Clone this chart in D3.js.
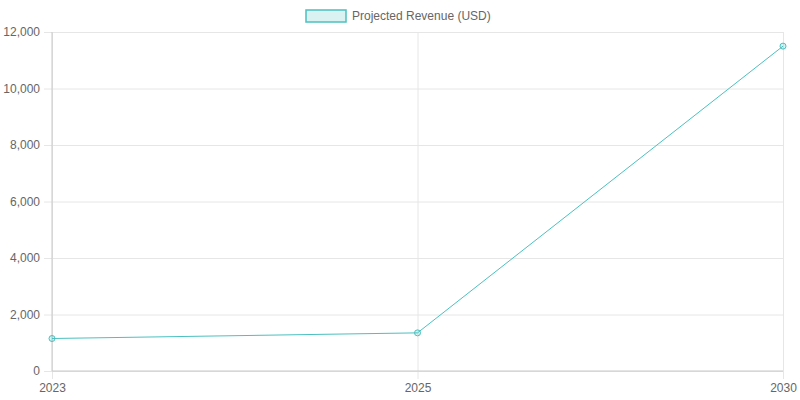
<!DOCTYPE html>
<html>
<head>
<meta charset="utf-8">
<script src="https://cdn.jsdelivr.net/npm/d3@7"></script>
<style>
  body { margin: 0; background: #fff; }
  svg text { font-family: "Liberation Sans", Arial, sans-serif; fill: #666; font-size: 12px; }
</style>
</head>
<body>
<div class="container_main"></div>
<script>
// data
const years = ["2023", "2025", "2030"];
const revenue = [1150, 1350, 11500];
const yTicks = [0, 2000, 4000, 6000, 8000, 10000, 12000];
const seriesName = "Projected Revenue (USD)";

const svgwidth = 800, svgheight = 400;
const margin = {top: 32, right: 17, bottom: 29, left: 52};
const mywidth = svgwidth - margin.left - margin.right;
const myheight = svgheight - margin.top - margin.bottom;

const teal = "rgb(75,192,192)";
const tealFill = "rgba(75,192,192,0.2)";

const root = d3.select(".container_main")
  .append("svg")
  .attr("width", svgwidth)
  .attr("height", svgheight);

const svg = root.append("g")
  .attr("transform", "translate(" + margin.left + "," + margin.top + ")");

// scales
const posX = d3.scalePoint().domain(years).range([0, mywidth]);
const posY = d3.scaleLinear().domain([0, 12000]).range([myheight, 0]);

// grid lines
svg.append("g")
  .attr("class", "axis axis--y")
  .call(d3.axisLeft(posY).tickValues(yTicks).tickSize(-mywidth).tickPadding(4).tickFormat(d3.format(",")))
  .call(g => g.select(".domain").remove())
  .call(g => g.selectAll(".tick line").attr("stroke", "#e6e6e6").attr("x1", -8))
  .call(g => g.selectAll(".tick text").attr("x", -12));

svg.append("g")
  .attr("class", "axis axis--x")
  .attr("transform", "translate(0," + myheight + ")")
  .call(d3.axisBottom(posX).tickSize(-myheight).tickPadding(10))
  .call(g => g.select(".domain").remove())
  .call(g => g.selectAll(".tick line").attr("stroke", "#e6e6e6").attr("y1", 8))
  .call(g => g.selectAll(".tick text").attr("y", 12));

// axis borders
svg.append("line").attr("x1", 0).attr("x2", 0).attr("y1", 0).attr("y2", myheight)
  .attr("stroke", "#c8c8c8");
svg.append("line").attr("x1", 0).attr("x2", mywidth).attr("y1", myheight).attr("y2", myheight)
  .attr("stroke", "#c8c8c8");

// line
const line = d3.line()
  .x((d, i) => posX(years[i]))
  .y(d => posY(d));

svg.append("path")
  .datum(revenue)
  .attr("fill", "none")
  .attr("stroke", teal)
  .attr("stroke-width", 1)
  .attr("d", line);

svg.selectAll(".markers")
  .data(revenue)
  .enter()
  .append("circle")
    .attr("class", "markers")
    .attr("cx", (d, i) => posX(years[i]))
    .attr("cy", d => posY(d))
    .attr("r", 3)
    .attr("fill", tealFill)
    .attr("stroke", teal)
    .attr("stroke-width", 1);

// legend
const legend = root.append("g").attr("transform", "translate(306,10)");
legend.append("rect")
  .attr("x", 0).attr("y", 0)
  .attr("width", 40).attr("height", 12)
  .attr("fill", tealFill)
  .attr("stroke", teal)
  .attr("stroke-width", 1.5);
legend.append("text")
  .attr("x", 46).attr("y", 6)
  .attr("dy", "0.35em")
  .text(seriesName);
</script>
</body>
</html>
